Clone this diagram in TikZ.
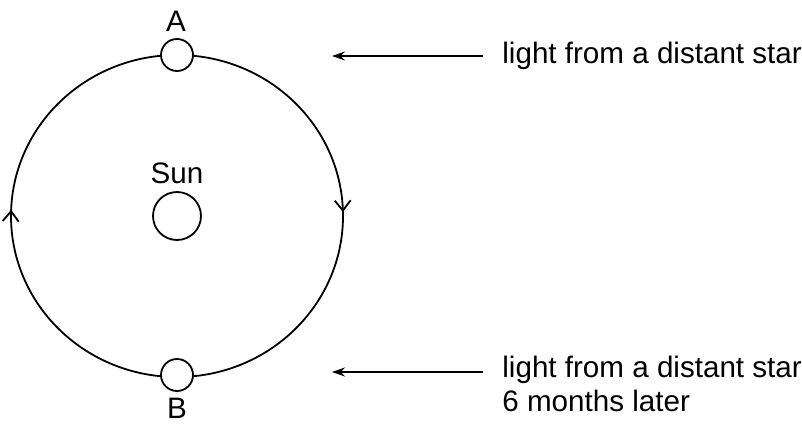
\documentclass[tikz,border=0pt]{standalone}
\usepackage{fontspec}
\setmainfont{Liberation Sans}
\usetikzlibrary{decorations.markings,arrows.meta}

\begin{document}
\begin{tikzpicture}[x=0.5pt, y=-0.5pt, >={Stealth[length=6.5pt,width=4.5pt]},
		font=\fontsize{14.8}{17}\selectfont,
		body/.style={draw, circle, fill=white, line width=0.9pt, inner sep=0pt},
		starlight/.style={inner xsep=9.5pt, inner ysep=0pt},
		orbit/.style={line width=0.9pt, decoration={markings,
				mark=at position 0.004 with {\arrowreversed{Straight Barb[length=5pt,width=8pt]}},
				mark=at position 0.494 with {\arrowreversed{Straight Barb[length=5pt,width=8pt]}}},
			postaction=decorate}]
		\useasboundingbox (0,0) rectangle (802,423);
		\coordinate (tip1) at (332,56);
		\coordinate (tip2) at (332,372);
		% sun and orbit
		\node[body, minimum size=24pt] (sun) at (177,216) {};
		\node (sunname) at (177,173) {Sun};
		\draw[orbit] (sun.center) ellipse [x radius=83pt, y radius=80.5pt];
		% positions of the earth
		\node[body, minimum size=16pt] (A) at (177,55) {};
		\node[body, minimum size=16pt] (B) at (177,375) {};
		\node (Aname) at (176,21) {A};
		\node (Bname) at (177,408) {B};
		% light from the star
		\node[starlight, anchor=west] (star1) at (483,56) {light from a distant star};
		\node[starlight, anchor=north west, align=left] (star2) at (483,356) {light from a distant star\\6 months later};
		\draw[->, line width=0.9pt] (star1.west) -- (tip1);
		\draw[->, line width=0.9pt] (star2.west |- tip2) -- (tip2);
	\end{tikzpicture}
\end{document}
